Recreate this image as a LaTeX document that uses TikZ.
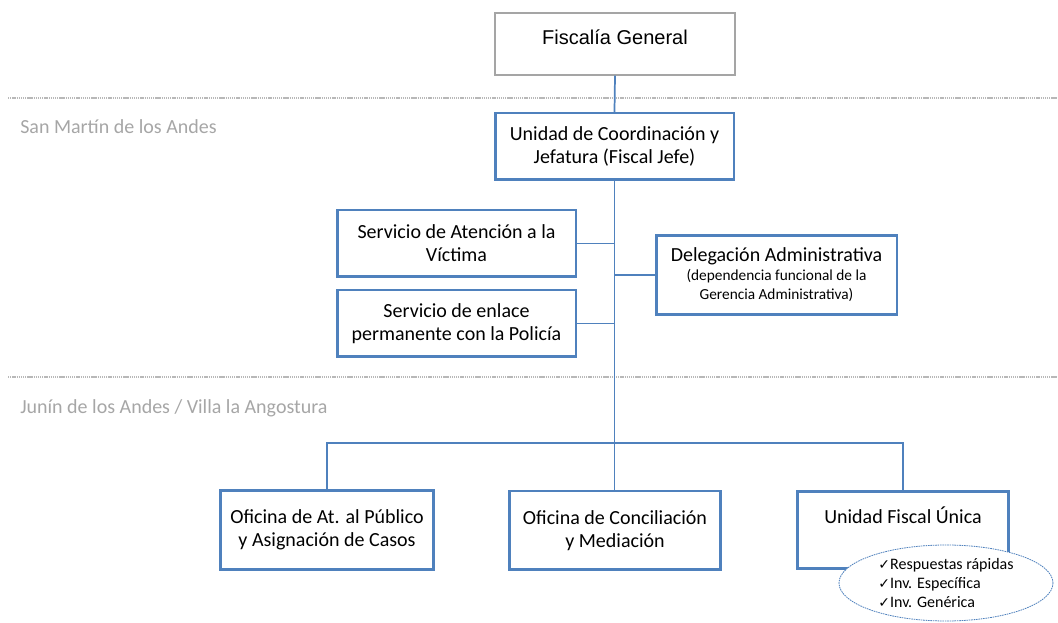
\documentclass[tikz,border=0pt]{standalone}
\usepackage{fontspec}
\setmainfont{Carlito}
\newfontfamily\arialfont{Liberation Sans}
\newfontfamily\tickfont{DejaVu Sans}
\usetikzlibrary{shapes.geometric}
\definecolor{orgblue}{HTML}{4F81BD}
\definecolor{zonegray}{HTML}{A6A6A6}
\definecolor{boxgray}{HTML}{A5A5A5}
\newcommand{\tick}{{\tickfont\fontsize{10.5}{10.5}\selectfont ✓}}

\begin{document}
\begin{tikzpicture}[x=0.75pt, y=-0.75pt,
    unit/.style={draw=orgblue, line width=2pt, fill=white, align=center, inner sep=2pt,
      font=\fontsize{15}{17.25}\selectfont},
    headbox/.style={draw=boxgray, line width=1.1pt, fill=white},
    link/.style={draw=orgblue, line width=1.3pt},
    zoneline/.style={draw=zonegray!80, line width=1.1pt, dash pattern=on 1pt off 0.6pt},
    zonelabel/.style={text=zonegray, anchor=base west, inner sep=0pt, font=\fontsize{15}{17}\selectfont},
    bubble/.style={ellipse, draw=orgblue, line width=0.6pt, dash pattern=on 1.2pt off 0.6pt,
      fill=white, inner sep=0pt, align=left, font=\fontsize{12}{13.9}\selectfont}]
  \useasboundingbox (0,0) rectangle (1058,623);

  % zonas
  \draw[zoneline] (8,98) -- (1058,98);
  \draw[zoneline] (8,377) -- (1058,377);
  \node[zonelabel] (zsm) at (20,134) {San Martín de los Andes};
  \node[zonelabel] (zja) at (20,414) {Junín de los Andes / Villa la Angostura};

  % cabecera
  \node[headbox, minimum width=180pt, minimum height=46.5pt] (fg) at (615,44) {};
  \node[font=\arialfont\fontsize{15}{17}\selectfont] (fgt) at (615,37) {Fiscalía General};

  % San Martin de los Andes
  \node[unit, minimum width=179pt, minimum height=50pt] (ucj) at (614.5,146.5) {Unidad de Coordinación y\\Jefatura (Fiscal Jefe)};
  \node[unit, minimum width=179pt, minimum height=50pt] (sav) at (456.5,243.5) {Servicio de Atención a la\\Víctima};
  \node[unit, minimum width=179pt, minimum height=50pt] (sep) at (456.5,323.5) {Servicio de enlace\\permanente con la Policía};
  \node[unit, minimum width=180.5pt, minimum height=59.5pt] (da) at (776.5,275)
    {Delegación Administrativa\\[-3pt]{\fontsize{11.5}{12.75}\selectfont (dependencia funcional de la}\\[-3pt]{\fontsize{11.5}{12.75}\selectfont Gerencia Administrativa)}};

  % Junin de los Andes / Villa la Angostura
  \node[unit, minimum width=160pt, minimum height=59.5pt] (oap) at (327,530) {Oficina de At. al Público\\y Asignación de Casos};
  \node[unit, minimum width=158.5pt, minimum height=59pt] (ocm) at (615,530.5) {Oficina de Conciliación\\y Mediación};
  \node[unit, minimum width=158.5pt, minimum height=58pt] (ufu) at (903,530) {};
  \node[font=\fontsize{15}{17.25}\selectfont] (ufut) at (903,515) {Unidad Fiscal Única};
  \coordinate (bus) at (615,443);

  % conectores
  \draw[link] (fg.south) -- (ucj.north);
  \draw[link] (ucj.south) -- (ucj.south |- ocm.north);
  \draw[link] (sav.east) -- (sav.east -| ucj.south);
  \draw[link] (sep.east) -- (sep.east -| ucj.south);
  \draw[link] (da.west) -- (da.west -| ucj.south);
  \draw[link] (oap.north) |- (bus) -| (ufu.north);

  \node[bubble, minimum width=160.5pt, minimum height=57pt] (ufl) at (946,583)
    {\tick Respuestas rápidas\\\tick Inv. Específica\\\tick Inv. Genérica};
\end{tikzpicture}
\end{document}
